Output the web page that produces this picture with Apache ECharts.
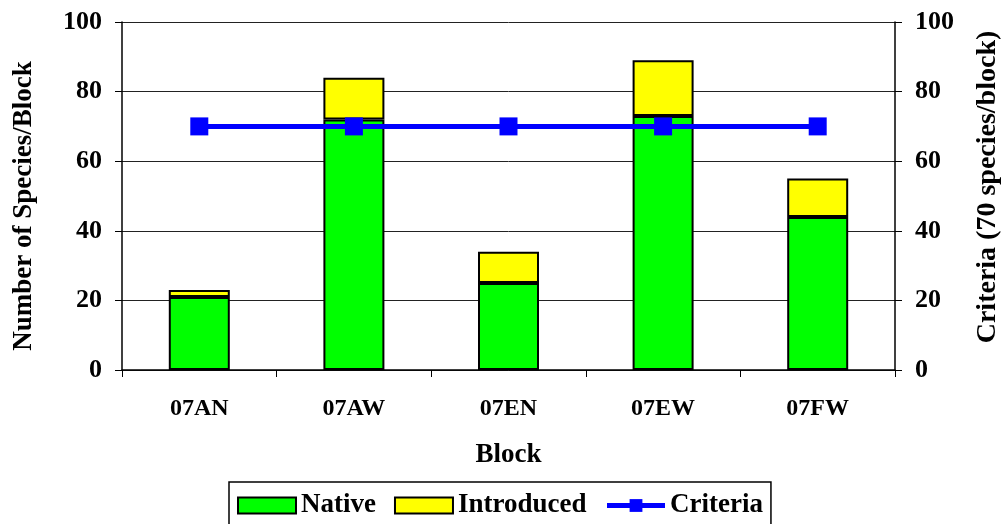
<!DOCTYPE html>
<html>
<head>
<meta charset="utf-8">
<script src="https://cdn.jsdelivr.net/npm/echarts@6/dist/echarts.min.js"></script>
<style>
    html, body { margin: 0; padding: 0; background: #fff; }
    #chart { width: 1005px; height: 524px; }
</style>
</head>
<body>
<div id="chart"></div>
<script>
var blocks = ['07AN', '07AW', '07EN', '07EW', '07FW'];
var nativeData = [21, 72, 25, 73, 44];
var introducedData = [2, 12, 9, 16, 11];
var criteriaData = [70, 70, 70, 70, 70];

var font = '"Liberation Serif", "Times New Roman", serif';

function drawchart(id) {
    var myChart = echarts.init(document.getElementById(id));
    myChart.setOption({
        animation: false,
        textStyle: { fontFamily: font, color: '#000' },
        grid: { left: 122, right: 110, top: 22, bottom: 154, outerBoundsMode: 'none', containLabel: false },
        legend: {
            left: 229,
            top: 482,
            data: [
                { name: 'Native', icon: 'rect' },
                { name: 'Introduced', icon: 'rect' },
                { name: 'Criteria', lineStyle: { width: 5 } }
            ],
            borderColor: '#000',
            borderWidth: 1.5,
            padding: [10, 8, 14, 8],
            itemGap: 18,
            itemWidth: 58,
            itemHeight: 16,
            textStyle: { fontFamily: font, fontWeight: 'bold', fontSize: 27, color: '#000' }
        },
        xAxis: [
            {
                type: 'category',
                data: blocks,
                name: 'Block',
                nameLocation: 'middle',
                nameGap: 72,
                nameTextStyle: { fontFamily: font, fontWeight: 'bold', fontSize: 27, color: '#000' },
                axisLine: { lineStyle: { color: '#000', width: 1.5 } },
                axisTick: { show: true, length: 7, lineStyle: { color: '#000' } },
                axisLabel: { fontFamily: font, fontWeight: 'bold', fontSize: 24, color: '#000', margin: 27 }
            }
        ],
        yAxis: [
            {
                type: 'value',
                min: 0,
                max: 100,
                interval: 20,
                name: 'Number of Species/Block',
                nameLocation: 'middle',
                nameGap: 84,
                nameTextStyle: { fontFamily: font, fontWeight: 'bold', fontSize: 27, color: '#000', padding: [0, 20, 0, 0] },
                axisLine: { show: true, lineStyle: { color: '#000', width: 1.5 } },
                axisTick: { show: true, length: 7, lineStyle: { color: '#000' } },
                splitLine: { show: true, lineStyle: { color: '#222', width: 1 } },
                axisLabel: { fontFamily: font, fontWeight: 'bold', fontSize: 26, color: '#000', margin: 20 }
            },
            {
                type: 'value',
                min: 0,
                max: 100,
                interval: 20,
                position: 'right',
                name: 'Criteria (70 species/block)',
                nameLocation: 'middle',
                nameGap: 79,
                nameRotate: 90,
                nameTextStyle: { fontFamily: font, fontWeight: 'bold', fontSize: 28, color: '#000', padding: [0, 0, 0, 18] },
                axisLine: { show: true, lineStyle: { color: '#000', width: 1.5 } },
                axisTick: { show: true, length: 7, lineStyle: { color: '#000' } },
                splitLine: { show: false },
                axisLabel: { fontFamily: font, fontWeight: 'bold', fontSize: 26, color: '#000', margin: 20 }
            }
        ],
        series: [
            {
                name: 'Native',
                type: 'bar',
                stack: 'species',
                barWidth: 61,
                data: nativeData,
                itemStyle: { color: '#00FF00', borderColor: '#000', borderWidth: 2 }
            },
            {
                name: 'Introduced',
                type: 'bar',
                stack: 'species',
                barWidth: 61,
                data: introducedData,
                itemStyle: { color: '#FFFF00', borderColor: '#000', borderWidth: 2 }
            },
            {
                name: 'Criteria',
                type: 'line',
                yAxisIndex: 1,
                data: criteriaData,
                symbol: 'rect',
                symbolSize: 18,
                lineStyle: { color: '#0000FF', width: 5 },
                itemStyle: { color: '#0000FF' },
                z: 5
            }
        ]
    });
}

drawchart('chart');
</script>
</body>
</html>
